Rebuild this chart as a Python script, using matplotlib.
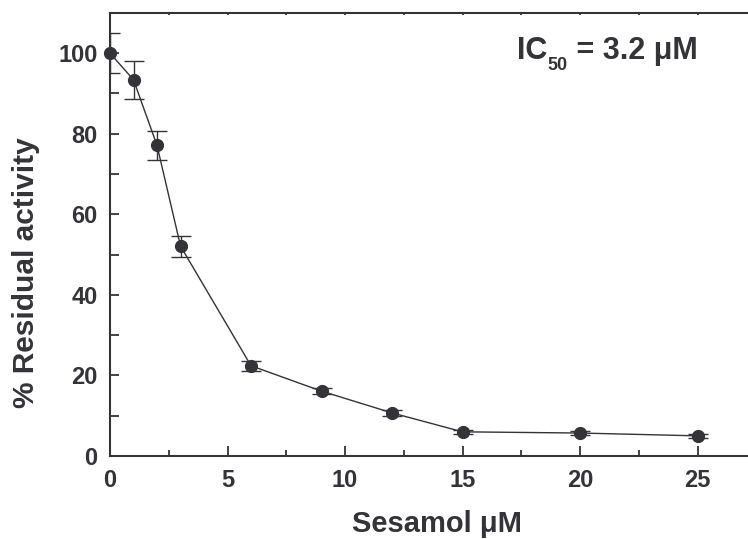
import matplotlib
matplotlib.use("Agg")
import matplotlib.pyplot as plt
from matplotlib.ticker import MultipleLocator
from matplotlib.transforms import offset_copy

conc = [0, 1, 2, 3, 6, 9, 12, 15, 20, 25]
activity = [100.0, 93.4, 77.1, 52.1, 22.4, 16.1, 10.7, 6.0, 5.7, 5.0]
err = [5.0, 4.7, 3.7, 2.6, 1.2, 0.7, 0.7, 0.5, 0.5, 0.5]

plt.rcParams['font.family'] = ['Liberation Sans', 'DejaVu Sans']
plt.rcParams['font.weight'] = 'bold'

C = '#333338'
fig = plt.figure(figsize=(7.48, 5.39), dpi=100)
ax = fig.add_axes([0.1471, 0.154, 0.853, 0.822])

# error bars (clipped at the axes), then line + markers (not clipped)
ax.errorbar(conc, activity, yerr=err, fmt='none', ecolor=C,
            elinewidth=1.0, capsize=7.5, capthick=1.0, zorder=2)
ax.plot(conc, activity, 'o-', color=C, markersize=8.5, linewidth=1.0,
        clip_on=False, zorder=3)

ax.set_xlim(0, 27.15)
ax.set_ylim(0, 110)
ax.xaxis.set_major_locator(MultipleLocator(5))
ax.xaxis.set_minor_locator(MultipleLocator(2.5))
ax.yaxis.set_major_locator(MultipleLocator(20))
ax.yaxis.set_minor_locator(MultipleLocator(10))

ax.spines['right'].set_visible(False)
for s in ['left', 'bottom', 'top']:
    ax.spines[s].set_linewidth(1.5)
    ax.spines[s].set_color(C)

ax.tick_params(axis='x', which='major', direction='in', length=7.5, width=1.3,
               color=C, labelsize=17, labelcolor=C, pad=9.5, top=True)
ax.tick_params(axis='x', which='minor', direction='in', length=4.5, width=1.3,
               color=C, top=True)
ax.tick_params(axis='y', which='both', direction='in', length=6.5, width=1.3,
               color=C, labelsize=17, labelcolor=C, pad=9)
for t in ax.xaxis.get_ticklines(minor=False)[1::2] + ax.xaxis.get_ticklines(minor=True)[1::2]:
    t.set_markersize(1.5)

for lab in ax.get_xticklabels() + ax.get_yticklabels():
    lab.set_fontweight('bold')

ax.set_xlabel('Sesamol μM', fontsize=21, fontweight='bold', color=C)
ax.set_ylabel('% Residual activity', fontsize=21.5, fontweight='bold', color=C)
ax.xaxis.set_label_coords(0.513, -0.121)
ax.yaxis.set_label_coords(-0.110, 0.413)

# IC50 annotation built from pieces
fig.canvas.draw()
r = fig.canvas.get_renderer()
x0, y0 = 17.3, 98.5
t1 = ax.text(x0, y0, 'IC', fontsize=22, fontweight='bold', color=C,
             ha='left', va='baseline')
w1 = t1.get_window_extent(r).width * 72 / fig.dpi
t2 = ax.text(x0, y0, '50', fontsize=13, fontweight='bold', color=C,
             ha='left', va='baseline',
             transform=offset_copy(ax.transData, fig=fig, x=w1 + 0.5, y=-8, units='points'))
w2 = t2.get_window_extent(r).width * 72 / fig.dpi
ax.text(x0, y0, ' = 3.2 μM', fontsize=22, fontweight='bold', color=C,
        ha='left', va='baseline',
        transform=offset_copy(ax.transData, fig=fig, x=w1 + w2 + 1, y=0, units='points'))

fig.savefig('out.png', dpi=100)
